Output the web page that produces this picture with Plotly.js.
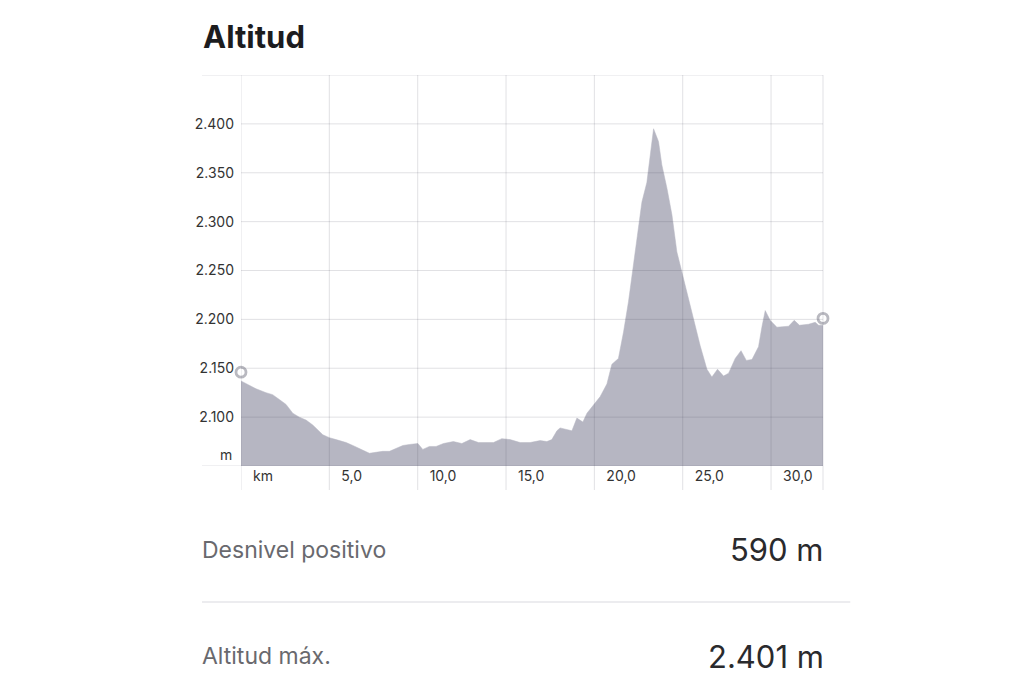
<!DOCTYPE html>
<html>
<head>
<meta charset="utf-8">
<script src="https://cdn.plot.ly/plotly-3.0.1.min.js"></script>
<style>html,body{margin:0;padding:0;background:#fff;}#chart{width:1024px;height:683px;}</style>
</head>
<body>
<div id="chart"></div>
<script>
// Distance along the route (km)
const distanceKm = [0, 0.47, 0.85, 1.42, 1.79, 2.17, 2.55, 2.93, 3.30, 3.68, 4.06, 4.63, 5.00, 5.38, 5.95, 6.33, 6.70, 7.27, 7.64, 8.02, 8.40, 8.78, 9.16, 9.53, 10.01, 10.29, 10.66, 11.04, 11.46, 12.02, 12.50, 12.97, 13.44, 13.91, 14.29, 14.76, 15.23, 15.80, 16.36, 16.93, 17.31, 17.59, 17.88, 18.06, 18.53, 18.73, 19.01, 19.35, 19.58, 19.95, 20.33, 20.71, 20.99, 21.36, 21.65, 21.93, 22.21, 22.50, 22.69, 22.97, 23.16, 23.35, 23.63, 23.82, 24.11, 24.39, 24.67, 24.95, 25.24, 25.61, 25.99, 26.37, 26.65, 26.97, 27.31, 27.60, 27.97, 28.30, 28.60, 28.92, 29.29, 29.48, 29.67, 29.95, 30.33, 30.99, 31.31, 31.61, 32.12, 32.50, 32.69, 32.94];
// Altitude (m)
const altitudeM = [2137, 2133, 2129, 2125, 2123, 2118, 2113, 2104, 2100, 2097, 2092, 2082, 2079, 2077, 2074, 2071, 2068, 2063, 2064, 2065, 2065, 2068, 2071, 2072, 2073, 2067, 2070, 2070, 2073, 2075, 2073, 2077, 2074, 2074, 2074, 2078, 2077, 2074, 2074, 2076, 2075, 2077, 2086, 2089, 2087, 2086, 2099, 2095, 2104, 2112, 2121, 2134, 2154, 2160, 2187, 2218, 2256, 2296, 2320, 2340, 2368, 2395, 2382, 2358, 2334, 2307, 2269, 2249, 2228, 2199, 2173, 2149, 2141, 2149, 2142, 2145, 2160, 2168, 2158, 2159, 2172, 2192, 2209, 2199, 2192, 2193, 2199, 2194, 2195, 2197, 2194, 2194];
// Start / end markers
const markerKm = [0, 32.94];
const markerAlt = [2146, 2201];

// Axis ticks
const xTickVals = [0, 5, 10, 15, 20, 25, 30];
const xTickLabels = ['km', '5,0', '10,0', '15,0', '20,0', '25,0', '30,0'];
const yTickVals = [2100, 2150, 2200, 2250, 2300, 2350, 2400];
const yTickLabels = ['2.100', '2.150', '2.200', '2.250', '2.300', '2.350', '2.400'];
const yRange = [2050, 2450];
const xRange = [0, 32.94];

// Summary stats
const statLabels = ['Desnivel positivo', 'Altitud máx.'];
const statValues = ['590 m', '2.401 m'];

const FONT = 'Inter, Roboto, "Noto Sans", sans-serif';
const gridColor = 'rgba(70,70,90,0.16)';

const shapes = [];
yTickVals.forEach(v => shapes.push({type:'line', layer:'above', xref:'paper', yref:'y', x0:0, x1:1, y0:v, y1:v, line:{color:gridColor, width:1}}));
[yRange[0], yRange[1]].forEach(v => shapes.push({type:'line', layer:'above', xref:'paper', yref:'y', x0:-0.067, x1:1, y0:v, y1:v, line:{color:gridColor, width:1}}));
xTickVals.forEach(v => shapes.push({type:'line', layer:'above', xref:'x', yref:'paper', x0:v, x1:v, y0:-0.0614, y1:1, line:{color:gridColor, width:1}}));
shapes.push({type:'line', layer:'above', xref:'paper', yref:'paper', x0:1, x1:1, y0:-0.0614, y1:1, line:{color:gridColor, width:1}});
// separator between stats
shapes.push({type:'line', xref:'paper', yref:'paper', x0:-0.067, x1:1.0469, y0:-0.3478, y1:-0.3478, line:{color:'#e6e6ea', width:1.5}});

const statY = [-0.2148, -0.4860];
const annotations = [];
statLabels.forEach((t, i) => {
  annotations.push({xref:'paper', yref:'paper', x:-0.0653, y:statY[i], xanchor:'left', yanchor:'middle', xshift:-3, showarrow:false, text:t, font:{family:FONT, size:23, color:'#69696e'}});
  annotations.push({xref:'paper', yref:'paper', x:0.9988, y:statY[i], xanchor:'right', yanchor:'middle', xshift:4, showarrow:false, text:statValues[i], font:{family:FONT, size:31, color:'#2a2a2d'}});
});
annotations.push({xref:'paper', yref:'paper', x:0, y:0, xanchor:'right', yanchor:'middle', xshift:-7, yshift:12, showarrow:false, text:'m', font:{family:FONT, size:14, color:'#333'}});

const traces = [
  {x: distanceKm, y: altitudeM, type:'scatter', mode:'lines', fill:'tozeroy', fillcolor:'rgb(182,182,194)', line:{color:'rgb(182,182,194)', width:0.5}, hoverinfo:'skip'},
  {x: markerKm, y: markerAlt, type:'scatter', mode:'markers', cliponaxis:false, marker:{symbol:'circle', size:10, color:'#ffffff', line:{color:'#b9b9c0', width:2.8}}, hoverinfo:'skip'}
];

const layout = {
  width:1024, height:683, autosize:false,
  paper_bgcolor:'#ffffff', plot_bgcolor:'#ffffff',
  margin:{l:241, r:201, t:75, b:217, pad:0},
  showlegend:false,
  title:{text:'<b>Altitud</b>', x:203/1024, xref:'container', xanchor:'left', y:1-37/683, yanchor:'middle', yref:'container', font:{family:FONT, size:31, color:'#1c1c1e'}},
  xaxis:{range:xRange, showgrid:false, zeroline:false, showline:false, ticks:'', tickvals:xTickVals, ticktext:xTickLabels, ticklabelposition:'outside right', ticklabelshift:12, tickfont:{family:FONT, size:14, color:'#333'}, fixedrange:true},
  yaxis:{range:yRange, showgrid:false, zeroline:false, showline:false, ticks:'', tickvals:yTickVals, ticktext:yTickLabels, ticklabelstandoff:6, tickfont:{family:FONT, size:14, color:'#333'}, fixedrange:true},
  shapes: shapes,
  annotations: annotations
};

Plotly.newPlot('chart', traces, layout, {displayModeBar:false, staticPlot:true});
</script>
</body>
</html>
